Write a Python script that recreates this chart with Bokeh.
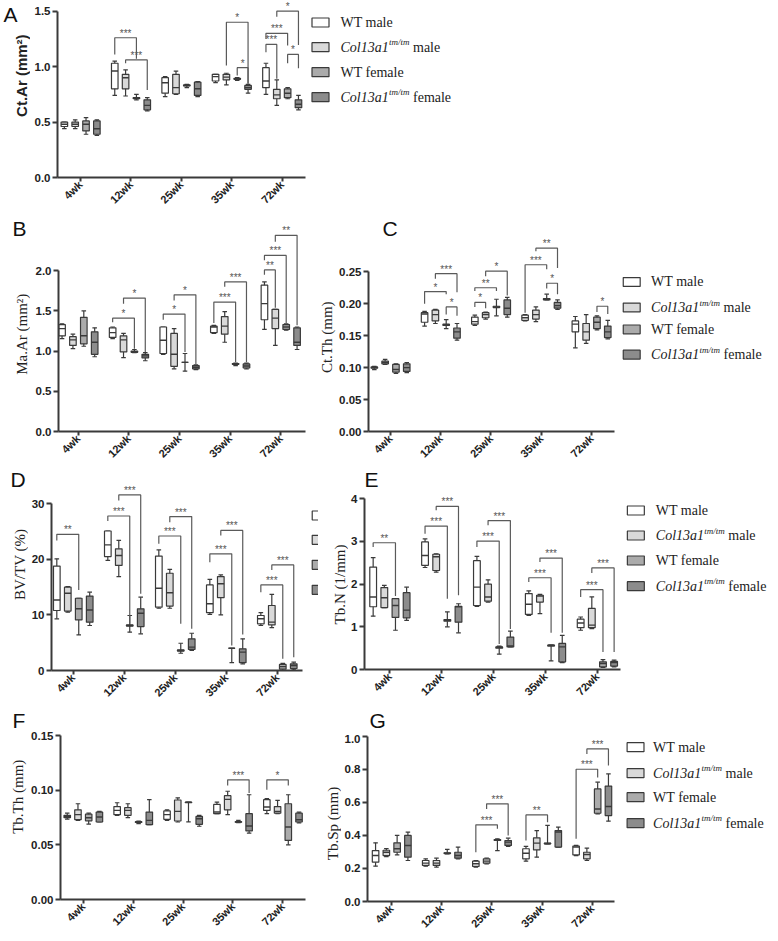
import math
from bokeh.plotting import figure
from bokeh.models import FixedTicker, NumeralTickFormatter, Range1d
from bokeh.layouts import column, row
from bokeh.embed import file_html
from bokeh.resources import INLINE
from bokeh.core.properties import value

# ---------------- data ----------------
GROUPS = ["4wk", "12wk", "25wk", "35wk", "72wk"]
SERIES = ["WT male", "Col13a1 male", "WT female", "Col13a1 female"]
# each tuple: (min, q1, median, q3, max) for one age group

# A: Ct.Ar (mm2)
CTAR_WT_M = [(0.44, 0.46, 0.48, 0.50, 0.50), (0.74, 0.80, 0.96, 1.03, 1.05), (0.73, 0.76, 0.855, 0.90, 0.91), (0.855, 0.87, 0.91, 0.93, 0.93), (0.75, 0.81, 0.87, 0.99, 1.03)]
CTAR_KO_M = [(0.44, 0.46, 0.48, 0.50, 0.52), (0.735, 0.80, 0.90, 0.93, 0.97), (0.75, 0.755, 0.81, 0.93, 0.96), (0.835, 0.88, 0.905, 0.93, 0.94), (0.65, 0.71, 0.745, 0.795, 0.88)]
CTAR_WT_F = [(0.39, 0.42, 0.48, 0.51, 0.54), (0.70, 0.71, 0.72, 0.72, 0.75), (0.81, 0.825, 0.83, 0.835, 0.84), (0.875, 0.885, 0.89, 0.895, 0.90), (0.71, 0.72, 0.76, 0.80, 0.81)]
CTAR_KO_F = [(0.38, 0.39, 0.44, 0.51, 0.52), (0.60, 0.61, 0.65, 0.70, 0.72), (0.73, 0.74, 0.80, 0.86, 0.865), (0.76, 0.795, 0.81, 0.83, 0.84), (0.61, 0.63, 0.66, 0.70, 0.74)]
# significance: (group, series a, series b, bracket top, end a, end b, label)
CTAR_SIG = [(1, 0, 2, 1.26, 1.11, 1.07, "***"), (1, 1, 3, 1.06, 1.03, 0.79, "***"),
            (3, 1, 3, 1.40, 1.01, 0.85, "*"), (3, 2, 3, 0.99, 0.92, 0.84, "*"),
            (4, 0, 1, 1.20, 1.13, 0.89, "***"), (4, 0, 2, 1.30, 1.25, 1.19, "***"),
            (4, 1, 3, 1.50, 1.45, 1.195, "*"), (4, 2, 3, 1.11, 1.03, 0.985, "*")]

# B: Ma.Ar (mm2)
MAAR_WT_M = [(1.156, 1.19, 1.28, 1.33, 1.34), (1.155, 1.17, 1.23, 1.29, 1.30), (0.96, 0.97, 1.135, 1.30, 1.30), (1.22, 1.23, 1.30, 1.31, 1.32), (1.27, 1.39, 1.59, 1.82, 1.86)]
MAAR_KO_M = [(1.03, 1.07, 1.14, 1.18, 1.21), (0.92, 0.99, 1.14, 1.19, 1.22), (0.78, 0.81, 0.96, 1.22, 1.28), (1.11, 1.21, 1.31, 1.43, 1.49), (1.07, 1.28, 1.41, 1.52, 1.52)]
MAAR_WT_F = [(1.06, 1.09, 1.19, 1.42, 1.50), (0.98, 0.985, 0.99, 1.0, 1.02), (0.75, 0.86, 0.86, 0.86, 0.97), (0.82, 0.835, 0.84, 0.845, 0.85), (1.26, 1.27, 1.30, 1.33, 1.34)]
MAAR_KO_F = [(0.93, 0.96, 1.11, 1.24, 1.29), (0.88, 0.915, 0.94, 0.96, 0.98), (0.77, 0.78, 0.80, 0.82, 0.83), (0.78, 0.79, 0.815, 0.84, 0.85), (1.02, 1.07, 1.11, 1.29, 1.30)]
MAAR_SIG = [(1, 0, 2, 1.41, 1.36, 1.03, "*"), (1, 1, 3, 1.66, 1.59, 0.99, "*"),
            (2, 0, 2, 1.46, 1.39, 0.99, "*"), (2, 1, 3, 1.70, 1.63, 0.84, "*"),
            (3, 0, 2, 1.61, 1.35, 0.86, "***"), (3, 1, 3, 1.86, 1.80, 0.86, "***"),
            (4, 0, 1, 2.01, 1.95, 1.54, "**"), (4, 0, 2, 2.19, 2.13, 1.35, "***"),
            (4, 1, 3, 2.44, 2.36, 1.32, "**")]

# C: Ct.Th (mm)
CTTH_WT_M = [(0.097, 0.099, 0.100, 0.101, 0.102), (0.165, 0.171, 0.184, 0.186, 0.188), (0.166, 0.168, 0.172, 0.179, 0.182), (0.173, 0.174, 0.178, 0.182, 0.183), (0.131, 0.156, 0.168, 0.173, 0.180)]
CTTH_KO_M = [(0.105, 0.106, 0.108, 0.110, 0.113), (0.169, 0.173, 0.183, 0.190, 0.191), (0.176, 0.178, 0.183, 0.186, 0.187), (0.172, 0.176, 0.183, 0.190, 0.195), (0.138, 0.143, 0.156, 0.169, 0.183)]
CTTH_WT_F = [(0.091, 0.093, 0.097, 0.105, 0.106), (0.161, 0.166, 0.167, 0.168, 0.175), (0.181, 0.194, 0.195, 0.196, 0.207), (0.206, 0.206, 0.207, 0.208, 0.215), (0.159, 0.161, 0.171, 0.179, 0.181)]
CTTH_KO_F = [(0.092, 0.094, 0.100, 0.106, 0.108), (0.143, 0.146, 0.156, 0.162, 0.169), (0.179, 0.183, 0.193, 0.206, 0.210), (0.191, 0.193, 0.197, 0.202, 0.206), (0.145, 0.147, 0.156, 0.165, 0.174)]
CTTH_SIG = [(1, 0, 2, 0.219, 0.200, 0.215, "*"), (1, 1, 3, 0.247, 0.239, 0.218, "***"),
            (1, 2, 3, 0.195, 0.183, 0.181, "*"), (2, 0, 1, 0.202, 0.195, 0.193, "*"),
            (2, 0, 2, 0.225, 0.220, 0.220, "**"), (2, 1, 3, 0.251, 0.243, 0.213, "*"),
            (3, 0, 2, 0.261, 0.186, 0.254, "***"), (3, 1, 3, 0.287, 0.282, 0.256, "**"),
            (3, 2, 3, 0.232, 0.224, 0.215, "*"), (4, 2, 3, 0.196, 0.187, 0.184, "*")]

# D: BV/TV (%)
BVTV_WT_M = [(9.3, 10.8, 12.7, 18.8, 20.1), (19.8, 20.5, 22.6, 25.1, 25.1), (11.2, 11.4, 14.8, 20.6, 21.7), (10.1, 10.4, 12.0, 15.4, 16.4), (8.1, 8.4, 9.3, 9.9, 10.4)]
BVTV_KO_M = [(10.5, 10.7, 13.9, 15.0, 15.1), (16.9, 18.9, 20.7, 21.9, 23.4), (11.2, 11.6, 14.0, 17.5, 18.2), (10.0, 13.1, 15.6, 16.9, 17.2), (7.7, 8.2, 8.7, 11.7, 13.7)]
BVTV_WT_F = [(6.4, 9.1, 11.1, 13.0, 13.0), (6.9, 8.0, 8.1, 8.2, 9.9), (3.1, 3.5, 3.6, 3.7, 4.9), (1.4, 4.0, 4.0, 4.0, 4.0), (0.0, 0.24, 0.7, 1.1, 1.3)]
BVTV_KO_F = [(8.1, 8.7, 10.9, 13.4, 14.1), (6.6, 7.9, 10.3, 11.1, 13.2), (3.6, 3.8, 4.2, 5.7, 6.7), (1.2, 1.4, 3.3, 3.9, 5.7), (0.1, 0.36, 0.9, 1.2, 1.5)]
BVTV_SIG = [(0, 0, 2, 24.5, 23.4, 14.5, "**"), (1, 0, 2, 27.8, 26.9, 8.4, "***"),
            (1, 1, 3, 31.6, 30.6, 13.8, "***"), (2, 0, 2, 24.2, 22.8, 8.4, "***"),
            (2, 1, 3, 27.7, 26.7, 7.5, "***"), (3, 0, 2, 21.0, 19.5, 4.5, "***"),
            (3, 1, 3, 25.2, 24.3, 6.5, "***"), (4, 0, 2, 15.4, 14.1, 2.1, "***"),
            (4, 1, 3, 19.0, 18.1, 2.4, "***")]

# E: Tb.N (1/mm)
TBN_WT_M = [(1.25, 1.47, 1.70, 2.40, 2.62), (2.39, 2.44, 2.67, 2.99, 3.06), (1.48, 1.50, 1.93, 2.55, 2.65), (1.27, 1.29, 1.53, 1.78, 1.84), (0.92, 0.98, 1.09, 1.18, 1.23)]
TBN_KO_M = [(1.45, 1.45, 1.68, 1.92, 1.97), (2.28, 2.32, 2.64, 2.70, 2.71), (1.58, 1.60, 1.70, 2.00, 2.10), (1.31, 1.58, 1.72, 1.74, 1.76), (0.96, 0.98, 1.04, 1.43, 1.70)]
TBN_WT_F = [(0.92, 1.22, 1.50, 1.66, 1.66), (1.0, 1.13, 1.15, 1.17, 1.35), (0.36, 0.50, 0.52, 0.53, 0.55), (0.20, 0.55, 0.57, 0.57, 0.57), (0.05, 0.06, 0.14, 0.18, 0.23)]
TBN_KO_F = [(1.15, 1.21, 1.39, 1.80, 1.93), (0.86, 1.11, 1.47, 1.48, 1.54), (0.53, 0.53, 0.55, 0.76, 0.90), (0.16, 0.18, 0.53, 0.61, 0.80), (0.06, 0.08, 0.16, 0.19, 0.22)]
TBN_SIG = [(0, 0, 2, 2.97, 2.87, 1.72, "**"), (1, 0, 2, 3.36, 3.18, 1.66, "***"),
           (1, 1, 3, 3.82, 3.73, 1.74, "***"), (2, 0, 2, 3.01, 2.87, 0.60, "***"),
           (2, 1, 3, 3.49, 3.38, 0.95, "***"), (3, 0, 2, 2.15, 2.05, 0.86, "***"),
           (3, 1, 3, 2.61, 2.52, 0.86, "***"), (4, 0, 2, 1.87, 1.70, 0.41, "***"),
           (4, 1, 3, 2.38, 2.26, 0.41, "***")]

# F: Tb.Th (mm)
TBTH_WT_M = [(0.0736, 0.0748, 0.0757, 0.077, 0.079), (0.077, 0.0776, 0.0815, 0.085, 0.0885), (0.0724, 0.0733, 0.0776, 0.081, 0.082), (0.0785, 0.0785, 0.080, 0.087, 0.0891), (0.0785, 0.0815, 0.0846, 0.0913, 0.0922)]
TBTH_KO_M = [(0.0724, 0.073, 0.0776, 0.082, 0.0876), (0.0748, 0.077, 0.0815, 0.084, 0.0876), (0.0709, 0.0718, 0.0806, 0.091, 0.093), (0.0776, 0.082, 0.0916, 0.095, 0.099), (0.0785, 0.079, 0.0806, 0.085, 0.0907)]
TBTH_WT_F = [(0.069, 0.072, 0.0748, 0.078, 0.079), (0.0694, 0.0705, 0.0709, 0.0712, 0.0718), (0.071, 0.0885, 0.0888, 0.089, 0.089), (0.0703, 0.0707, 0.0709, 0.0712, 0.0724), (0.050, 0.054, 0.0663, 0.0876, 0.0958)]
TBTH_KO_F = [(0.0709, 0.0709, 0.0754, 0.080, 0.0806), (0.0684, 0.0684, 0.0724, 0.080, 0.0913), (0.067, 0.0688, 0.0739, 0.076, 0.077), (0.0608, 0.0627, 0.0672, 0.0785, 0.0958), (0.070, 0.0709, 0.073, 0.079, 0.080)]
TBTH_SIG = [(3, 1, 3, 0.1095, 0.1043, 0.0975, "***"), (4, 0, 2, 0.1095, 0.1004, 0.1043, "*")]

# G: Tb.Sp (mm)
TBSP_WT_M = [(0.214, 0.238, 0.278, 0.308, 0.355), (0.214, 0.218, 0.232, 0.248, 0.258), (0.208, 0.212, 0.228, 0.244, 0.248), (0.244, 0.258, 0.292, 0.319, 0.333), (0.278, 0.282, 0.329, 0.335, 0.339)]
TBSP_KO_M = [(0.272, 0.278, 0.298, 0.31, 0.32), (0.208, 0.218, 0.232, 0.248, 0.262), (0.228, 0.232, 0.244, 0.258, 0.262), (0.268, 0.312, 0.353, 0.385, 0.429), (0.248, 0.258, 0.284, 0.298, 0.323)]
TBSP_WT_F = [(0.282, 0.298, 0.319, 0.355, 0.40), (0.288, 0.29, 0.292, 0.295, 0.315), (0.308, 0.369, 0.373, 0.375, 0.379), (0.349, 0.349, 0.351, 0.353, 0.46), (0.53, 0.534, 0.56, 0.681, 0.722)]
TBSP_KO_F = [(0.248, 0.268, 0.339, 0.40, 0.42), (0.258, 0.262, 0.278, 0.298, 0.329), (0.333, 0.339, 0.359, 0.369, 0.383), (0.329, 0.329, 0.42, 0.429, 0.45), (0.486, 0.52, 0.575, 0.698, 0.772)]
TBSP_SIG = [(2, 0, 2, 0.464, 0.298, 0.44, "***"), (2, 1, 3, 0.591, 0.56, 0.40, "***"),
            (3, 0, 2, 0.524, 0.369, 0.48, "**"), (4, 0, 2, 0.80, 0.379, 0.75, "***"),
            (4, 1, 3, 0.923, 0.893, 0.823, "***")]

# ---------------- style ----------------
FILLS = ["#ffffff", "#d9d9d9", "#ababab", "#8c8c8c"]
OFFSETS = [-0.32, -0.105, 0.11, 0.325]
BOXW = 0.13
CAPW = 0.045
INK = "#3a3a3a"
SANS = "Liberation Sans"
SERIF = "Liberation Serif"


def blank(w, h):
    """An axis-less canvas measured in pixels (y upwards) for panel letters / titles."""
    p = figure(width=w, height=h, output_backend="svg", toolbar_location=None,
               x_range=Range1d(0, w), y_range=Range1d(0, h),
               x_axis_type=None, y_axis_type=None, min_border=0)
    p.grid.visible = False
    p.outline_line_color = None
    return p


def put_letter(p, h, x, y, name):
    p.text([x], [h - y], text=[name], text_align="left", text_baseline="top",
           text_font=value(SANS), text_font_size="21px", text_color="#111111")


def make_panel(cfg, series, sig):
    W, H, L, B = cfg["W"], cfg["H"], cfg["left"], cfg["bottom"]
    g, k, x0 = cfg["g"], cfg["k"], cfg["x0"]
    gx, sy = cfg["gx"], cfg.get("sy", 0)
    fh = H - B

    def dx(px):  # panel-local px -> data x
        return x0 + (px - L) / g

    def dy(py):  # panel-local px (from top) -> data y
        return (fh - py) / k

    p = figure(width=W - gx, height=H - sy, output_backend="svg", toolbar_location=None,
               x_range=Range1d(x0, dx(W)), y_range=Range1d(0, dy(sy)),
               min_border_left=L - gx, min_border_right=0, min_border_top=0,
               min_border_bottom=B)
    p.grid.visible = False
    p.outline_line_color = None

    xa, ya = p.xaxis[0], p.yaxis[0]
    for ax in (xa, ya):
        ax.axis_line_color = INK
        ax.axis_line_width = 2
        ax.major_tick_line_color = INK
        ax.major_tick_line_width = 2
        ax.major_tick_in = 0
        ax.minor_tick_line_color = None
        ax.major_label_text_font = SANS
        ax.major_label_text_font_style = "bold"
        ax.major_label_text_color = "#222222"
    ya.major_tick_out = 5
    ya.major_label_standoff = 2
    ya.major_label_text_font_size = "11.5px"
    xa.major_tick_out = 4
    xa.major_label_standoff = 1
    xa.major_label_text_font_size = "11px"
    xa.ticker = FixedTicker(ticks=list(range(len(GROUPS))))
    xa.major_label_overrides = {i: name for i, name in enumerate(GROUPS)}
    xa.major_label_orientation = math.pi / 4
    xa.bounds = (x0, dx(cfg["xend"]))
    ya.ticker = FixedTicker(ticks=cfg["yticks"])
    ya.formatter = NumeralTickFormatter(format=cfg["fmt"])
    ya.bounds = (0, cfg["yticks"][-1])

    # boxes
    for s, data in enumerate(series):
        xs = [gi + OFFSETS[s] for gi in range(len(data))]
        mn = [d[0] for d in data]
        q1 = [d[1] for d in data]
        md = [d[2] for d in data]
        q3 = [d[3] for d in data]
        mx = [d[4] for d in data]
        p.segment(xs, mn, xs, mx, line_color=INK, line_width=1.2)
        p.segment([x - CAPW for x in xs], mx, [x + CAPW for x in xs], mx, line_color=INK, line_width=1.2)
        p.segment([x - CAPW for x in xs], mn, [x + CAPW for x in xs], mn, line_color=INK, line_width=1.2)
        p.vbar(x=xs, width=BOXW, bottom=q1, top=q3, fill_color=FILLS[s],
               line_color=INK, line_width=1.2)
        p.segment([x - BOXW / 2 for x in xs], md, [x + BOXW / 2 for x in xs], md,
                  line_color=INK, line_width=1.4)

    # significance brackets
    bxs, bys, tx, ty, tt = [], [], [], [], []
    for gi, a, b, top, ea, eb, lab in sig:
        xa_ = gi + OFFSETS[a]
        xb_ = gi + OFFSETS[b]
        bxs.append([xa_, xa_, xb_, xb_])
        bys.append([ea, top, top, eb])
        tx.append((xa_ + xb_) / 2)
        ty.append(top)
        tt.append(lab)
    p.multi_line(bxs, bys, line_color="#5a5a5a", line_width=1.2)
    p.text(tx, ty, text=tt, text_align="center", text_baseline="bottom",
           y_offset=1, text_font=value(SANS), text_font_size="10px",
           text_color="#555555")

    # legend
    if cfg.get("legend"):
        bcx, rows_, text_x = cfg["legend"]
        p.rect(x=[dx(bcx)] * 4, y=[dy(r) for r in rows_], width=17 / g, height=9 / k,
               fill_color=FILLS, line_color=INK, line_width=1.2)
        if text_x is not None:
            t0 = dx(text_x)
            common = dict(text_baseline="middle", text_align="left", text_color="#222222")
            p.text([t0, t0], [dy(rows_[0]), dy(rows_[2])], text=[SERIES[0], SERIES[2]],
                   text_font=value(SERIF), text_font_size="14px", **common)
            p.text([t0, t0], [dy(rows_[1]), dy(rows_[3])], text=["Col13a1", "Col13a1"],
                   text_font=value(SERIF), text_font_style="italic",
                   text_font_size="14px", **common)
            p.text([t0, t0], [dy(rows_[1]), dy(rows_[3])], text=["tm/tm", "tm/tm"],
                   x_offset=48.5, y_offset=-5, text_font=value(SERIF),
                   text_font_style="italic", text_font_size="9px", **common)
            p.text([t0, t0], [dy(rows_[1]), dy(rows_[3])], text=["male", "female"],
                   x_offset=72.5, text_font=value(SERIF), text_font_size="14px", **common)

    # left gutter: y-axis title (and letter if it sits there)
    gut = blank(gx, H)
    cx, cy = cfg["ylab_pos"]
    gut.text([cx], [H - cy], text=[cfg["ylab"]], angle=math.pi / 2, text_align="center",
             text_baseline="middle", text_font=value(cfg["ylab_font"]),
             text_font_style=cfg["ylab_style"], text_font_size=cfg["ylab_size"],
             text_color="#222222")
    lx, ly = cfg["letter"]
    where = cfg["letter_in"]
    if where == "gutter":
        put_letter(gut, H, lx, ly, cfg["name"])
    elif where == "main":
        p.text([dx(lx)], [dy(ly)], text=[cfg["name"]], text_align="left", text_baseline="top",
               text_font=value(SANS), text_font_size="21px", text_color="#111111")
    if sy > 0:
        strip = blank(W - gx, sy)
        if where == "strip":
            put_letter(strip, sy, max(lx - gx, 0), ly, cfg["name"])
        return row(gut, column(strip, p))
    return row(gut, p)


CFG_A = dict(name="A", W=778, H=216, gx=30, left=57, bottom=39, x0=-0.456, g=50.4, k=110.9,
             xend=305, yticks=[0, 0.5, 1.0, 1.5], fmt="0.0",
             ylab="Ct.Ar (mm²)", ylab_pos=(21, 91.7), ylab_font=SANS, ylab_style="bold",
             ylab_size="15px", letter=(3, 3), letter_in="gutter",
             legend=(320, [22.0, 46.7, 71.7, 96.7], 340))
CFG_B = dict(name="B", W=316, H=251, gx=30, left=58, bottom=34, x0=-0.39, g=50.6, k=81.15,
             xend=305, yticks=[0, 0.5, 1.0, 1.5, 2.0], fmt="0.0",
             ylab="Ma.Ar (mm²)", ylab_pos=(21, 137.5), ylab_font=SERIF, ylab_style="normal",
             ylab_size="15px", letter=(12, 0), letter_in="gutter")
CFG_C = dict(name="C", W=462, H=251, gx=20, left=50, bottom=32, x0=-0.436, g=50.5, k=650.8,
             xend=297, yticks=[0, 0.05, 0.10, 0.15, 0.20, 0.25], fmt="0.00",
             ylab="Ct.Th (mm)", ylab_pos=(10, 141), ylab_font=SERIF, ylab_style="normal",
             ylab_size="15px", letter=(64, 0), letter_in="main",
             legend=(314.5, [66.7, 92.7, 115.0, 140.7], 334))
CFG_D = dict(name="D", W=318, H=241, gx=28, left=50, bottom=38, x0=-0.424, g=51.2, k=5.557,
             xend=301.7, yticks=[0, 10, 20, 30], fmt="0",
             ylab="BV/TV (%)", ylab_pos=(19, 115), ylab_font=SERIF, ylab_style="normal",
             ylab_size="15px", letter=(10, 0), letter_in="gutter",
             legend=(320.2, [48.0, 72.3, 97.3, 122.3], None))
CFG_E = dict(name="E", W=460, H=241, gx=30, sy=26, left=45, bottom=39, x0=-0.487, g=52.0,
             k=42.68, xend=302, yticks=[0, 1, 2, 3, 4], fmt="0",
             ylab="Tb.N (1/mm)", ylab_pos=(21, 117), ylab_font=SERIF, ylab_style="normal",
             ylab_size="15px", letter=(29, 0), letter_in="strip",
             legend=(317, [43.0, 68.0, 93.0, 118.7], 337))
CFG_F = dict(name="F", W=320, H=233, gx=28, left=60, bottom=42, x0=-0.455, g=49.9, k=1093.3,
             xend=305, yticks=[0, 0.05, 0.10, 0.15], fmt="0.00",
             ylab="Tb.Th (mm)", ylab_pos=(17.5, 107.7), ylab_font=SERIF, ylab_style="normal",
             ylab_size="15px", letter=(12, 0), letter_in="gutter")
CFG_G = dict(name="G", W=458, H=233, gx=21, sy=26, left=44, bottom=40, x0=-0.481, g=50.5,
             k=165.3, xend=293, yticks=[0, 0.2, 0.4, 0.6, 0.8, 1.0], fmt="0.0",
             ylab="Tb.Sp (mm)", ylab_pos=(12.5, 115), ylab_font=SERIF, ylab_style="normal",
             ylab_size="15px", letter=(23, 0), letter_in="strip",
             legend=(314, [38.7, 64.7, 88.7, 114.7], 331.7))

pA = make_panel(CFG_A, [CTAR_WT_M, CTAR_KO_M, CTAR_WT_F, CTAR_KO_F], CTAR_SIG)
pB = make_panel(CFG_B, [MAAR_WT_M, MAAR_KO_M, MAAR_WT_F, MAAR_KO_F], MAAR_SIG)
pC = make_panel(CFG_C, [CTTH_WT_M, CTTH_KO_M, CTTH_WT_F, CTTH_KO_F], CTTH_SIG)
pD = make_panel(CFG_D, [BVTV_WT_M, BVTV_KO_M, BVTV_WT_F, BVTV_KO_F], BVTV_SIG)
pE = make_panel(CFG_E, [TBN_WT_M, TBN_KO_M, TBN_WT_F, TBN_KO_F], TBN_SIG)
pF = make_panel(CFG_F, [TBTH_WT_M, TBTH_KO_M, TBTH_WT_F, TBTH_KO_F], TBTH_SIG)
pG = make_panel(CFG_G, [TBSP_WT_M, TBSP_KO_M, TBSP_WT_F, TBSP_KO_F], TBSP_SIG)

layout = column(pA, row(pB, pC), row(pD, pE), row(pF, pG))
open("out.html", "w").write(file_html(layout, INLINE))
